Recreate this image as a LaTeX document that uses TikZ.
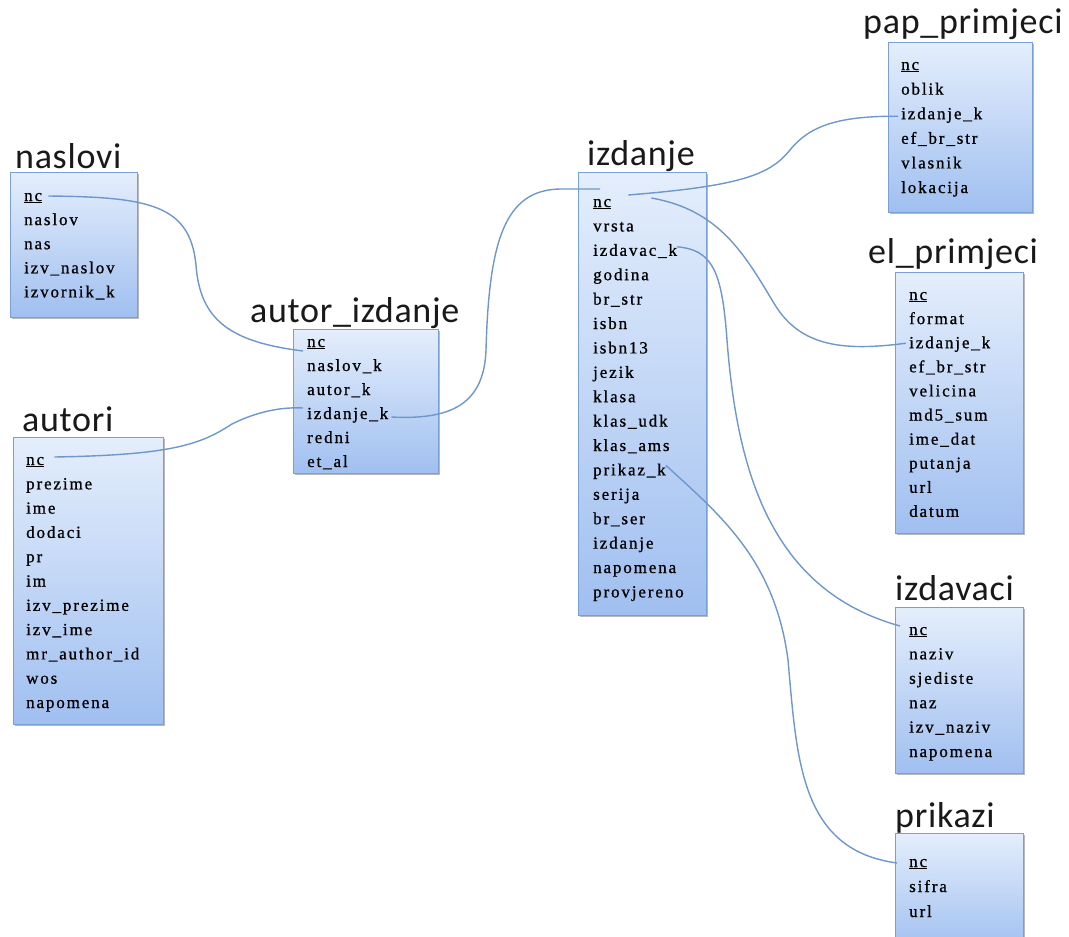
\documentclass[tikz,border=0pt]{standalone}
\usepackage{fontspec}
\setmainfont{Liberation Serif}
\newfontfamily\ttlfont[LetterSpace=2]{Carlito}
\newfontfamily\fldfont[LetterSpace=11,FakeBold=0.8]{Liberation Serif}
\usetikzlibrary{calc,shadows}

\definecolor{boxtop}{HTML}{E4EEFC}
\definecolor{boxbot}{HTML}{A0BFF0}
\definecolor{boxline}{HTML}{79A0D6}
\definecolor{linkcol}{HTML}{6F97CB}

\tikzset{
  tblbox/.style={draw=boxline, line width=1.3pt, top color=boxtop, bottom color=boxbot,
    inner sep=0pt, anchor=north west,
    drop shadow={shadow xshift=1pt, shadow yshift=-1.5pt, opacity=.55}},
  ttl/.style={anchor=base west, inner sep=0pt, text=black!90,
    font=\ttlfont\fontsize{36}{40}\selectfont},
  field/.style={anchor=base west, inner sep=0pt, font=\fldfont\fontsize{17}{20}\selectfont},
  link/.style={draw=linkcol, line width=1.4pt},
}

% table frame: id, x-left, y-top, x-right, y-bottom
\newcommand{\tblframe}[5]{%
  \node[tblbox, minimum width={#4-#2}, minimum height={#5-#3}] (#1-box) at (#2,#3) {};}
% fields: id, x, first baseline, row step, list
\newcommand{\tblfields}[5]{%
  \foreach \fld [count=\k] in {#5} {\node[field] (#1-\k) at (#2,{#3+#4*(\k-1)}) {\fld};}}

\begin{document}
\begin{tikzpicture}[x=1pt,y=-1pt]
\useasboundingbox (0,0) rectangle (1069,937);
\clip (0,0) rectangle (1069,937);

% naslovi
\node[ttl] (nas-title) at (15,168) {naslovi};
\tblframe{nas}{10}{172}{137}{317}
\tblfields{nas}{24}{201}{24.1}{\underline{nc},naslov,nas,izv\_naslov,izvornik\_k}

% autori
\node[ttl] (aut-title) at (22,431) {autori};
\tblframe{aut}{13}{437}{163}{724}
\tblfields{aut}{26}{465}{24.3}{\underline{nc},prezime,ime,dodaci,pr,im,izv\_prezime,izv\_ime,mr\_author\_id,wos,napomena}

% autor_izdanje
\node[ttl] (ai-title) at (250,322) {autor\_izdanje};
\tblframe{ai}{293}{329}{438}{473}
\tblfields{ai}{307}{347}{24}{\underline{nc},naslov\_k,autor\_k,izdanje\_k,redni,et\_al}

% izdanje
\node[ttl] (izd-title) at (587,165) {izdanje};
\tblframe{izd}{578}{172}{706}{615}
\tblfields{izd}{593}{207}{24.4}{\underline{nc},vrsta,izdavac\_k,godina,br\_str,isbn,isbn13,jezik,klasa,klas\_udk,klas\_ams,prikaz\_k,serija,br\_ser,izdanje,napomena,provjereno}

% pap_primjeci
\node[ttl] (pap-title) at (863,33) {pap\_primjeci};
\tblframe{pap}{888}{42}{1032}{212}
\tblfields{pap}{901}{70}{24.6}{\underline{nc},oblik,izdanje\_k,ef\_br\_str,vlasnik,lokacija}

% el_primjeci
\node[ttl] (el-title) at (868,263) {el\_primjeci};
\tblframe{el}{895}{272}{1023}{533}
\tblfields{el}{909}{300}{24.1}{\underline{nc},format,izdanje\_k,ef\_br\_str,velicina,md5\_sum,ime\_dat,putanja,url,datum}

% izdavaci
\node[ttl] (izv-title) at (895,600) {izdavaci};
\tblframe{izv}{895}{607}{1023}{773}
\tblfields{izv}{909}{635}{24.4}{\underline{nc},naziv,sjediste,naz,izv\_naziv,napomena}

% prikazi
\node[ttl] (pri-title) at (895,827) {prikazi};
\tblframe{pri}{895}{833}{1023}{950}
\tblfields{pri}{909}{867}{25}{\underline{nc},sifra,url}

% relations
\draw[link] ([xshift=6pt,yshift=5pt]nas-1.base east)
  .. controls (150,197) and (190,205) .. (196,265)
  .. controls (200,320) and (230,342) .. ([xshift=-4pt,yshift=-4pt]ai-1.base west);
\draw[link] ([xshift=10pt,yshift=8pt]aut-1.base east)
  .. controls (170,455) and (200,445) .. (232,424)
  .. controls (260,410) and (285,407) .. ([xshift=-4pt,yshift=11pt]ai-4.base west);
\draw[link] ([xshift=3pt,yshift=2pt]ai-4.base east)
  .. controls (450,420) and (484,405) .. (486,350)
  .. controls (489,240) and (505,190) .. (560,189)
  -- ([xshift=7pt,yshift=18pt]izd-1.base west);
\draw[link] ([xshift=17pt,yshift=12pt]izd-1.base east)
  .. controls (740,186) and (770,175) .. (790,150)
  .. controls (810,125) and (840,116) .. ([xshift=-3pt,yshift=3pt]pap-3.base west);
\draw[link] ([xshift=40pt,yshift=9pt]izd-1.base east)
  .. controls (720,210) and (745,255) .. (775,305)
  .. controls (800,345) and (840,352) .. ([xshift=-3pt,yshift=5pt]el-3.base west);
\draw[link] ([yshift=9pt]izd-3.base east)
  .. controls (712,250) and (722,270) .. (727,340)
  .. controls (737,470) and (770,590) .. ([xshift=-9pt,yshift=9pt]izv-1.base west);
\draw[link] ([yshift=10pt]izd-12.base east)
  .. controls (720,515) and (775,560) .. (788,660)
  .. controls (797,760) and (800,850) .. ([xshift=-12pt,yshift=4pt]pri-1.base west);
\end{tikzpicture}
\end{document}
